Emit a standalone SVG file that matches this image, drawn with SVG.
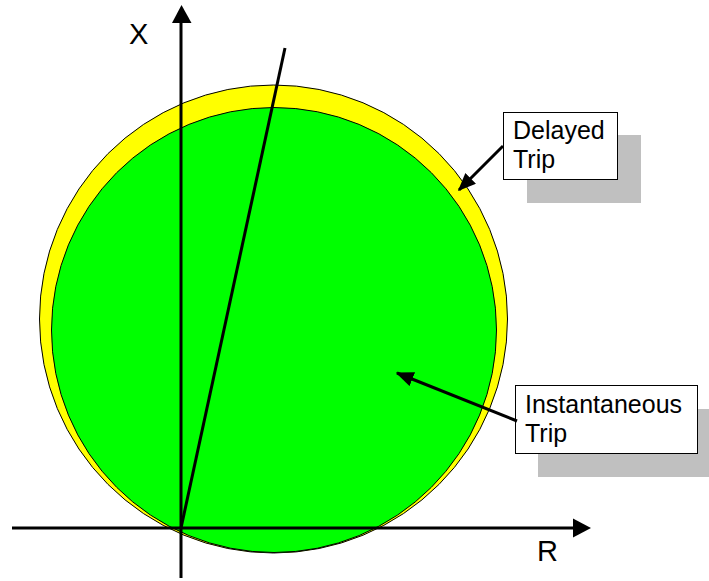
<svg xmlns="http://www.w3.org/2000/svg" width="709" height="581" viewBox="0 0 709 581">
<style>
.lbl{font-family:"Liberation Sans",Arial,sans-serif;font-size:25px;fill:#000}
.ax{font-family:"Liberation Sans",Arial,sans-serif;font-size:29px;fill:#000}
.box{fill:#fff;stroke:#000;stroke-width:1}
.shadow{fill:#c0c0c0}
.axis{stroke:#000;stroke-width:3;fill:none}
.conn{stroke:#000;stroke-width:3;fill:none}
</style>
<defs>
<marker id="ah" markerWidth="6" markerHeight="5" refX="5.5" refY="2.5" orient="auto" markerUnits="strokeWidth">
<path d="M0,0 L6,2.5 L0,5 Z" fill="#000"/>
</marker>
</defs>
<rect width="709" height="581" fill="#fff"/>
<g id="delayed-zone">
<circle cx="273.5" cy="319" r="234" fill="#ffff00" stroke="#000" stroke-width="1"/>
</g>
<g id="instant-zone">
<circle cx="274" cy="330" r="222.5" fill="#00ff00" stroke="#000" stroke-width="1"/>
</g>
<g id="axes">
<line class="axis" x1="181" y1="578" x2="181" y2="22"/>
<path d="M181.5,5 L191.5,23 L172,23 Z" fill="#000"/>
<line class="axis" x1="12" y1="528" x2="574" y2="528"/>
<path d="M591,528 L573,518.5 L573,537.5 Z" fill="#000"/>
<line class="axis" x1="181" y1="528" x2="285" y2="48"/>
<text class="ax" x="129" y="44">X</text>
<text class="ax" x="537" y="560.5">R</text>
</g>
<g id="delayed-trip">
<rect class="shadow" x="527" y="135" width="114" height="68"/>
<rect class="box" x="503.5" y="112.5" width="114" height="67"/>
<text class="lbl" x="513" y="139">Delayed</text>
<text class="lbl" x="513" y="168">Trip</text>
</g>
<g id="instantaneous-trip">
<rect class="shadow" x="538" y="409" width="171" height="68"/>
<rect class="box" x="515.5" y="385.5" width="182" height="68"/>
<text class="lbl" x="525" y="413">Instantaneous</text>
<text class="lbl" x="525" y="442">Trip</text>
</g>
<g id="connectors">
<line class="conn" x1="503" y1="146" x2="459" y2="190" marker-end="url(#ah)"/>
<line class="conn" x1="517" y1="421" x2="397" y2="373" marker-end="url(#ah)"/>
</g>
</svg>
